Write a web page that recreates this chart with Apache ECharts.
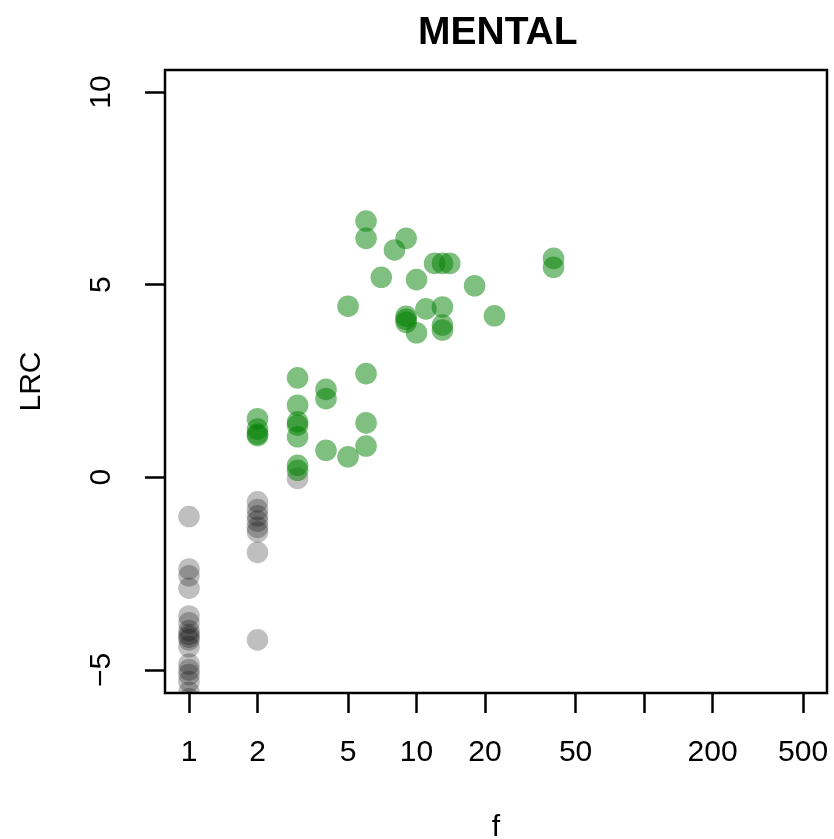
<!DOCTYPE html>
<html>
<head>
<meta charset="utf-8">
<script src="https://cdn.jsdelivr.net/npm/echarts@6/dist/echarts.min.js"></script>
<style>html,body{margin:0;padding:0;background:#fff}#c{width:834px;height:839px}</style>
</head>
<body>
<div id="c"></div>
<script>
// ---- data ----
var greyF   = [1,1,1,1,1,1,1,1,1,1,1,1,1,1,1,1,1, 2,2,2,2,2,2,2,2, 3];
var greyLRC = [-1.02,-2.38,-2.56,-2.88,-3.60,-3.78,-3.98,-4.08,-4.15,-4.22,-4.40,-4.85,-5.00,-5.12,-5.30,-5.58,-5.75,
               -0.64,-0.84,-1.00,-1.14,-1.30,-1.42,-1.95,-4.22, -0.03];
var greenF   = [2,2,2,2, 3,3,3,3,3,3,3, 4,4,4, 5,5, 6,6,6,6,6, 7, 8, 9,9,9,9, 10,10, 11, 12, 13,13,13,13, 14, 18, 22, 40,40];
var greenLRC = [1.52,1.25,1.12,1.08, 2.58,1.87,1.44,1.35,1.05,0.31,0.18, 2.28,2.04,0.70, 4.44,0.53,
                6.65,6.20,2.69,1.41,0.81, 5.19, 5.90, 6.20,4.18,4.10,4.02, 5.13,3.75, 4.37, 5.55,
                5.55,4.42,3.95,3.82, 5.55, 4.97, 4.19, 5.68,5.45];
var xTicks = [1,2,5,10,20,50,100,200,500];
var xTickLabels = [1,2,5,10,20,50,200,500];
var yTicks = [-5,0,5,10];

var FONT = "'Liberation Sans', Arial, Helvetica, sans-serif";
function pairs(a,b){ return a.map(function(v,i){ return [v,b[i]]; }); }
function circleSeries(data, color){
  return {
    type:'custom', clip:true, data:data, encode:{x:0,y:1},
    renderItem:function(params, api){
      var p = api.coord([api.value(0), api.value(1)]);
      return {type:'circle', shape:{cx:p[0], cy:p[1], r:10.8}, style:{fill:color, stroke:null}};
    }
  };
}
var chart = echarts.init(document.getElementById('c'), null, {renderer:'canvas'});
chart.setOption({
  animation:false,
  backgroundColor:'#fff',
  title:{text:'MENTAL', left:418, top:14, padding:0,
    textStyle:{fontFamily:FONT, fontWeight:'bold', fontSize:39, color:'#000'}},
  grid:{left:165, right:7, top:70, bottom:146, outerBoundsMode:'none', containLabel:false,
    show:true, borderColor:'#000', borderWidth:2.5, backgroundColor:'transparent'},
  xAxis:{type:'log', logBase:10, min:Math.pow(10,-0.1055), max:Math.pow(10,2.804),
    name:'f', nameLocation:'middle', nameGap:120,
    nameTextStyle:{fontFamily:FONT, fontSize:30, color:'#000'},
    axisLine:{show:false, onZero:false}, splitLine:{show:false}, minorTick:{show:false},
    axisTick:{show:true, length:20, customValues:xTicks, lineStyle:{color:'#000', width:2.5}},
    axisLabel:{customValues:xTickLabels, margin:45, fontFamily:FONT, fontSize:30, color:'#000',
      formatter:function(v){ return String(Math.round(v)); }}
  },
  yAxis:{type:'value', min:-5.6, max:10.57,
    name:'LRC', nameLocation:'middle', nameGap:118, nameRotate:90,
    nameTextStyle:{fontFamily:FONT, fontSize:30, color:'#000'},
    axisLine:{show:false, onZero:false}, splitLine:{show:false},
    axisTick:{show:true, length:20, customValues:yTicks, lineStyle:{color:'#000', width:2.5}},
    axisLabel:{customValues:yTicks, rotate:90, margin:48, fontFamily:FONT, fontSize:30, color:'#000',
      formatter:function(v){ return String(v).replace('-', '\u2212'); }}
  },
  series:[
    circleSeries(pairs(greyF, greyLRC), 'rgba(0,0,0,0.25)'),
    circleSeries(pairs(greenF, greenLRC), 'rgba(0,128,0,0.5)')
  ]
});
</script>
</body>
</html>
